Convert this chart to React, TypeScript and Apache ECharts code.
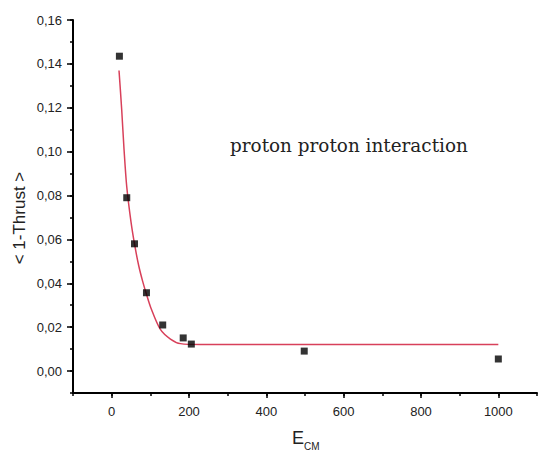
import React, { useEffect, useRef } from "react";
import * as echarts from "echarts";

// Measured points
const energies = [20, 39, 59, 90, 132, 185, 206, 498, 1000];
const thrustValues = [0.1435, 0.079, 0.058, 0.0357, 0.021, 0.0151, 0.0123, 0.0091, 0.0055];

// Fit curve
const fitX = [19, 26, 32, 39, 50, 60, 70, 80, 90, 101, 126, 152, 178, 230, 1000];
const fitY = [0.137, 0.119, 0.101, 0.084, 0.068, 0.057, 0.048, 0.041, 0.035, 0.029, 0.019, 0.0146, 0.0125, 0.0121, 0.0121];

const xMajorTicks = [0, 200, 400, 600, 800, 1000];
const yMajorTicks = [0, 0.02, 0.04, 0.06, 0.08, 0.1, 0.12, 0.14, 0.16];

const annotation = "proton proton interaction";
const yTitle = "< 1-Thrust >";

export default function App() {
  const ref = useRef<HTMLDivElement>(null);
  useEffect(() => {
    if (!ref.current) return;
    const chart = echarts.init(ref.current, null, { renderer: "svg" });
    const labelFont = { fontFamily: "Liberation Sans, Arial, sans-serif", fontSize: 13, color: "#222" };
    chart.setOption({
      animation: false,
      backgroundColor: "#fff",
      grid: { left: 73, right: 1, top: 20, bottom: 57 },
      xAxis: [
        {
          type: "value",
          min: -100,
          max: 1100,
          interval: 100,
          splitLine: { show: false },
          axisLine: { show: true, onZero: false, lineStyle: { color: "#000", width: 2 } },
          axisTick: { show: true, length: 3, lineStyle: { color: "#000", width: 1.5 } },
          axisLabel: {
            ...labelFont,
            margin: 12,
            customValues: xMajorTicks,
            formatter: (v: number) => String(v),
          },
        },
        {
          type: "value",
          min: -100,
          max: 1100,
          position: "bottom",
          splitLine: { show: false },
          axisLine: { show: false, onZero: false },
          axisTick: { show: true, length: 5, customValues: xMajorTicks, lineStyle: { color: "#000", width: 1.5 } },
          axisLabel: { show: false },
        },
      ],
      yAxis: [
        {
          type: "value",
          min: -0.01,
          max: 0.16,
          interval: 0.01,
          splitLine: { show: false },
          axisLine: { show: true, onZero: false, lineStyle: { color: "#000", width: 2 } },
          axisTick: { show: true, length: 3, lineStyle: { color: "#000", width: 1.5 } },
          axisLabel: {
            ...labelFont,
            margin: 11,
            customValues: yMajorTicks,
            formatter: (v: number) => v.toFixed(2).replace(".", ","),
          },
        },
        {
          type: "value",
          min: -0.01,
          max: 0.16,
          position: "left",
          splitLine: { show: false },
          axisLine: { show: false, onZero: false },
          axisTick: { show: true, length: 6, customValues: yMajorTicks, lineStyle: { color: "#000", width: 1.5 } },
          axisLabel: { show: false },
        },
      ],
      series: [
        {
          type: "line",
          data: fitX.map((x, i) => [x, fitY[i]]),
          smooth: 0.3,
          showSymbol: false,
          lineStyle: { color: "#d8405a", width: 1.5 },
          z: 2,
        },
        {
          type: "scatter",
          data: energies.map((x, i) => [x, thrustValues[i]]),
          symbol: "rect",
          symbolSize: 7,
          itemStyle: { color: "#000" },
          z: 3,
        },
      ],
      graphic: [
        {
          type: "text",
          x: 230,
          y: 145,
          style: {
            text: annotation,
            font: "18.4px 'DejaVu Serif', serif",
            fill: "#222",
            verticalAlign: "middle",
          },
        },
        {
          type: "text",
          x: 19,
          y: 218,
          rotation: Math.PI / 2,
          style: {
            text: yTitle,
            font: "17px 'Liberation Sans', Arial, sans-serif",
            fill: "#222",
            align: "center",
            verticalAlign: "middle",
          },
        },
        {
          type: "text",
          x: 292,
          y: 429,
          style: {
            text: "E",
            font: "18px 'Liberation Sans', Arial, sans-serif",
            fill: "#222",
            verticalAlign: "top",
          },
        },
        {
          type: "text",
          x: 304,
          y: 441,
          style: {
            text: "CM",
            font: "10px 'Liberation Sans', Arial, sans-serif",
            fill: "#222",
            verticalAlign: "top",
          },
        },
      ],
    });
    return () => chart.dispose();
  }, []);
  return <div ref={ref} style={{ position: "absolute", left: 0, top: 0, width: 538, height: 450 }} />;
}
